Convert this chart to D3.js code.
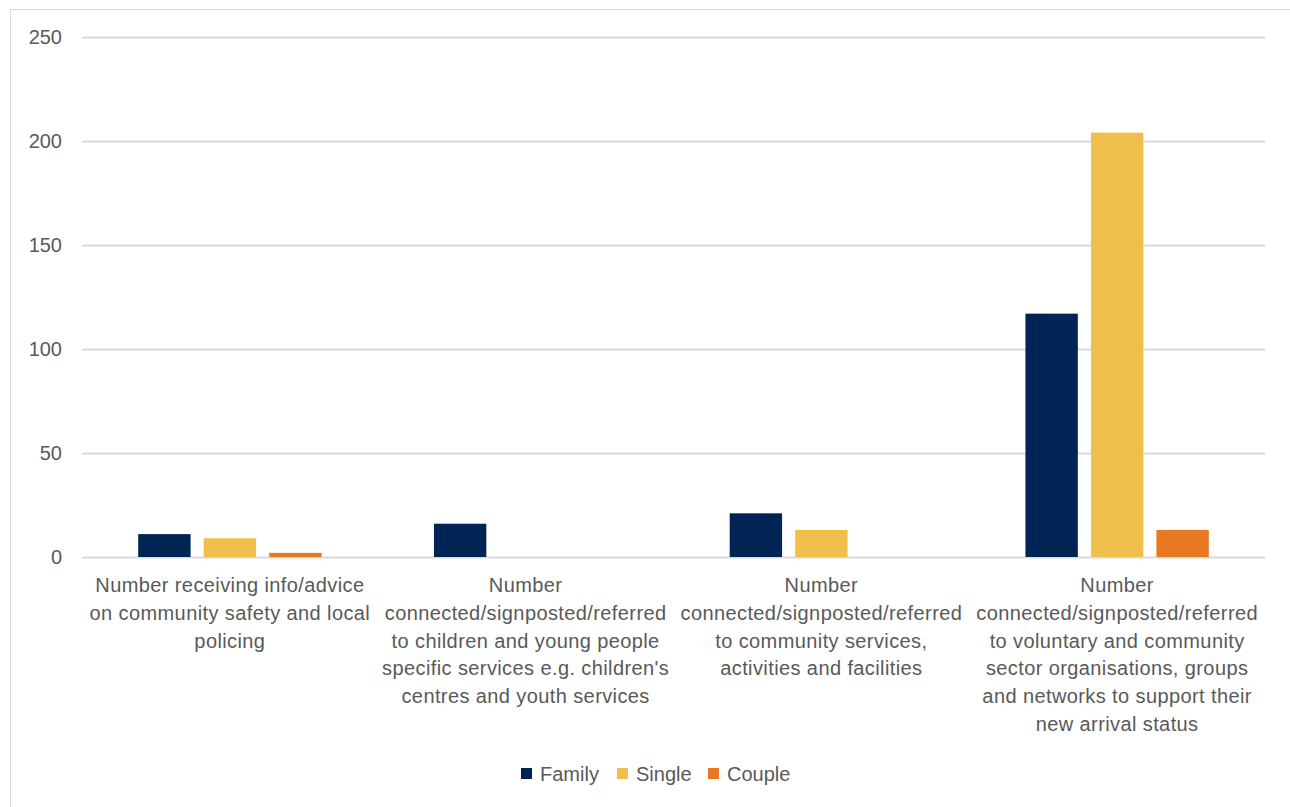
<!DOCTYPE html>
<html><head><meta charset="utf-8">
<script src="https://cdn.jsdelivr.net/npm/d3@7/dist/d3.min.js"></script>
<style>
html,body{margin:0;padding:0;background:#fff;}
svg{display:block;font-family:"Liberation Sans",Arial,sans-serif;}
</style></head>
<body><svg id="chart" width="1290" height="807"></svg>
<script>
const categories = [
  "Number receiving info/advice\non community safety and local\npolicing",
  "Number\nconnected/signposted/referred\nto children and young people\nspecific services e.g. children's\ncentres and youth services",
  "Number\nconnected/signposted/referred\nto community services,\nactivities and facilities",
  "Number\nconnected/signposted/referred\nto voluntary and community\nsector organisations, groups\nand networks to support their\nnew arrival status"
];
const seriesNames = ["Family", "Single", "Couple"];
const family = [11, 16, 21, 117];
const single = [9, 0, 13, 204];
const couple = [2, 0, 0, 13];
const yTicks = [0, 50, 100, 150, 200, 250];
const colors = ["#002454", "#F0BE4A", "#E87722"];

(function () {
const values = [family, single, couple];
const svg = d3.select("#chart");
const W = 1290, H = 807;
const mLeft = 82, mRight = 1265, mTop = 37, mBottom = 557;

svg.append("rect").attr("x", 10.5).attr("y", 9.5).attr("width", W + 10).attr("height", H + 10)
  .attr("fill", "#fff").attr("stroke", "#d9d9d9").attr("stroke-width", 1);

const y = d3.scaleLinear().domain([0, 250]).range([mBottom, mTop]);
const x0 = d3.scaleBand().domain(d3.range(categories.length)).range([mLeft, mRight]).paddingInner(0.38).paddingOuter(0.19);
const x1 = d3.scaleBand().domain(d3.range(seriesNames.length)).range([0, x0.bandwidth()]).paddingInner(0.2);

svg.append("g").selectAll("line").data(yTicks).join("line")
  .attr("x1", mLeft).attr("x2", mRight)
  .attr("y1", d => Math.round(y(d)) + 0.5).attr("y2", d => Math.round(y(d)) + 0.5)
  .attr("stroke", "#d9d9d9").attr("stroke-width", 2);

const yAxis = d3.axisLeft(y).tickValues(yTicks).tickSize(0).tickPadding(0);
const ya = svg.append("g").attr("transform", `translate(62,0)`).call(yAxis);
ya.select(".domain").remove();
ya.selectAll("text").attr("fill", "#595959").style("font-size", "20px").style("font-family", "inherit");

const groups = svg.append("g").selectAll("g").data(categories).join("g")
  .attr("transform", (d, i) => `translate(${x0(i)},0)`);
groups.selectAll("rect").data((d, i) => seriesNames.map((s, j) => ({ j, v: values[j][i] })))
  .join("rect")
  .attr("x", d => x1(d.j)).attr("width", x1.bandwidth())
  .attr("y", d => y(d.v)).attr("height", d => y(0) - y(d.v))
  .attr("fill", d => colors[d.j]);

const xl = svg.append("g");
categories.forEach((c, i) => {
  const cx = x0(i) + x0.bandwidth() / 2;
  const t = xl.append("text").attr("text-anchor", "middle").attr("fill", "#595959")
    .style("font-size", "20px").style("letter-spacing", "0.4px");
  c.split("\n").forEach((line, k) => {
    t.append("tspan").attr("x", cx).attr("y", 592 + k * 27.8).text(line);
  });
});

const legendX = [521, 617, 708];
const lg = svg.append("g");
seriesNames.forEach((s, j) => {
  lg.append("rect").attr("x", legendX[j]).attr("y", 768).attr("width", 11).attr("height", 11).attr("fill", colors[j]);
  lg.append("text").attr("x", legendX[j] + 19).attr("y", 781).attr("fill", "#595959").style("font-size", "20px").text(s);
});
})();
</script></body></html>
